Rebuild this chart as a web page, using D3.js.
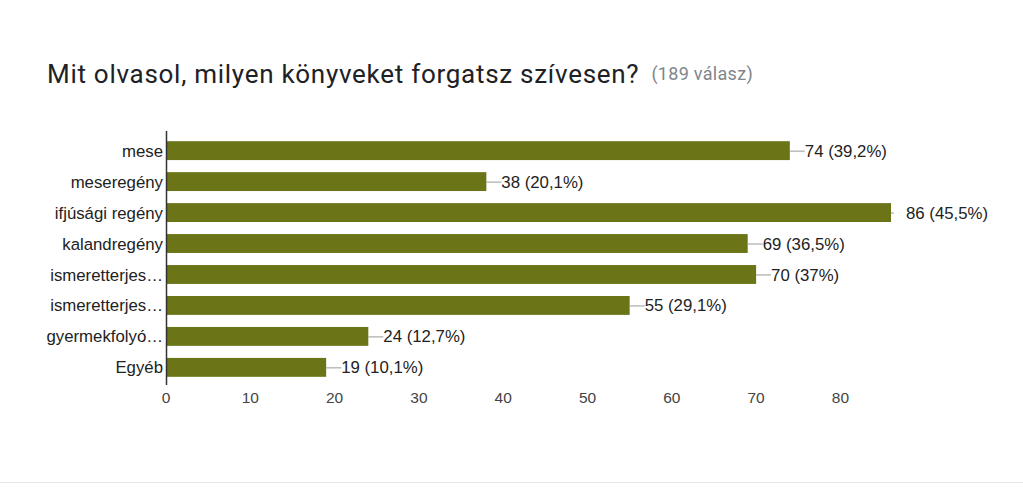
<!DOCTYPE html>
<html>
<head>
<meta charset="utf-8">
<script src="https://cdn.jsdelivr.net/npm/d3@7"></script>
<style>
  body { margin: 0; background: #fff; }
  .title { font-family: Roboto, "Noto Sans", sans-serif; font-size: 26px; letter-spacing: 0.72px; fill: #202124; }
  .subtitle { font-family: Roboto, "Noto Sans", sans-serif; font-size: 18px; letter-spacing: 0.3px; fill: #80868b; }
  .cat-label { font-family: "Liberation Sans", Arial, sans-serif; font-size: 16.8px; fill: #222; }
  .tick-label { font-family: "Liberation Sans", Arial, sans-serif; font-size: 15.5px; fill: #444; }
  .value-label { font-family: "Liberation Sans", Arial, sans-serif; font-size: 16.8px; fill: #222; }
</style>
</head>
<body>
<div id="wrapper"></div>
<script>
const categories = [
  "mese",
  "meseregény",
  "ifjúsági regény",
  "kalandregény",
  "ismeretterjes…",
  "ismeretterjes…",
  "gyermekfolyó…",
  "Egyéb"
];
const counts = [74, 38, 86, 69, 70, 55, 24, 19];
const percents = ["39,2%", "20,1%", "45,5%", "36,5%", "37%", "29,1%", "12,7%", "10,1%"];
const ticks = [0, 10, 20, 30, 40, 50, 60, 70, 80];
const titleText = "Mit olvasol, milyen könyveket forgatsz szívesen?";
const responses = "(189 válasz)";

function drawChart() {
  const dimensions = {
    width: 1023,
    height: 494,
    margin: { top: 135, right: 132, bottom: 111, left: 166 }
  };
  dimensions.boundedWidth = dimensions.width - dimensions.margin.left - dimensions.margin.right;
  dimensions.boundedHeight = dimensions.height - dimensions.margin.top - dimensions.margin.bottom;

  const svg = d3.select("#wrapper")
    .append("svg")
    .attr("width", dimensions.width)
    .attr("height", dimensions.height);

  // title
  const title = svg.append("text")
    .attr("class", "title")
    .attr("x", 47)
    .attr("y", 83)
    .text(titleText);
  const tw = title.node().getComputedTextLength();
  svg.append("text")
    .attr("class", "subtitle")
    .attr("x", 47 + tw + 12)
    .attr("y", 80)
    .text(responses);

  // bottom divider
  svg.append("line")
    .attr("x1", 0).attr("x2", dimensions.width)
    .attr("y1", 482.5).attr("y2", 482.5)
    .attr("stroke", "#e6e6e6")
    .attr("stroke-width", 1);

  const bounds = svg.append("g")
    .attr("transform", `translate(${dimensions.margin.left}, ${dimensions.margin.top})`);

  const xScale = d3.scaleLinear()
    .domain([0, d3.max(counts)])
    .range([0, dimensions.boundedWidth]);

  const yScale = d3.scaleBand()
    .domain(d3.range(categories.length))
    .range([0, dimensions.boundedHeight])
    .paddingInner(0.39)
    .paddingOuter(0.2);

  // bars
  bounds.selectAll(".bar")
    .data(counts)
    .join("rect")
    .attr("class", "bar")
    .attr("x", 0)
    .attr("y", (d, i) => yScale(i))
    .attr("width", d => xScale(d))
    .attr("height", yScale.bandwidth())
    .attr("fill", "#6b7417");

  // leader lines (clipped to chart area + a bit)
  bounds.append("clipPath").attr("id", "leaderClip")
    .append("rect")
    .attr("x", 0).attr("y", -10)
    .attr("width", dimensions.boundedWidth + 3)
    .attr("height", dimensions.boundedHeight + 20);

  bounds.append("g").attr("clip-path", "url(#leaderClip)")
    .selectAll("line")
    .data(counts)
    .join("line")
    .attr("x1", d => xScale(d))
    .attr("x2", d => xScale(d) + 15)
    .attr("y1", (d, i) => yScale(i) + yScale.bandwidth() / 2 + 0.5)
    .attr("y2", (d, i) => yScale(i) + yScale.bandwidth() / 2 + 0.5)
    .attr("stroke", "#999")
    .attr("stroke-width", 1);

  bounds.selectAll(".value-label")
    .data(counts)
    .join("text")
    .attr("class", "value-label")
    .attr("x", d => xScale(d) + 15)
    .attr("y", (d, i) => yScale(i) + yScale.bandwidth() / 2)
    .attr("dy", "0.36em")
    .text((d, i) => `${d} (${percents[i]})`);

  // y axis line
  bounds.append("line")
    .attr("x1", 0.5).attr("x2", 0.5)
    .attr("y1", -4).attr("y2", dimensions.boundedHeight + 2)
    .attr("stroke", "#333")
    .attr("stroke-width", 1.5);

  // category labels
  bounds.selectAll(".cat-label")
    .data(categories)
    .join("text")
    .attr("class", "cat-label")
    .attr("x", -3)
    .attr("y", (d, i) => yScale(i) + yScale.bandwidth() / 2)
    .attr("dy", "0.36em")
    .attr("text-anchor", "end")
    .text(d => d);

  // x tick labels
  bounds.selectAll(".tick-label")
    .data(ticks)
    .join("text")
    .attr("class", "tick-label")
    .attr("x", d => xScale(d))
    .attr("y", dimensions.boundedHeight + 20)
    .attr("text-anchor", "middle")
    .text(d => d);
}

drawChart();
</script>
</body>
</html>
